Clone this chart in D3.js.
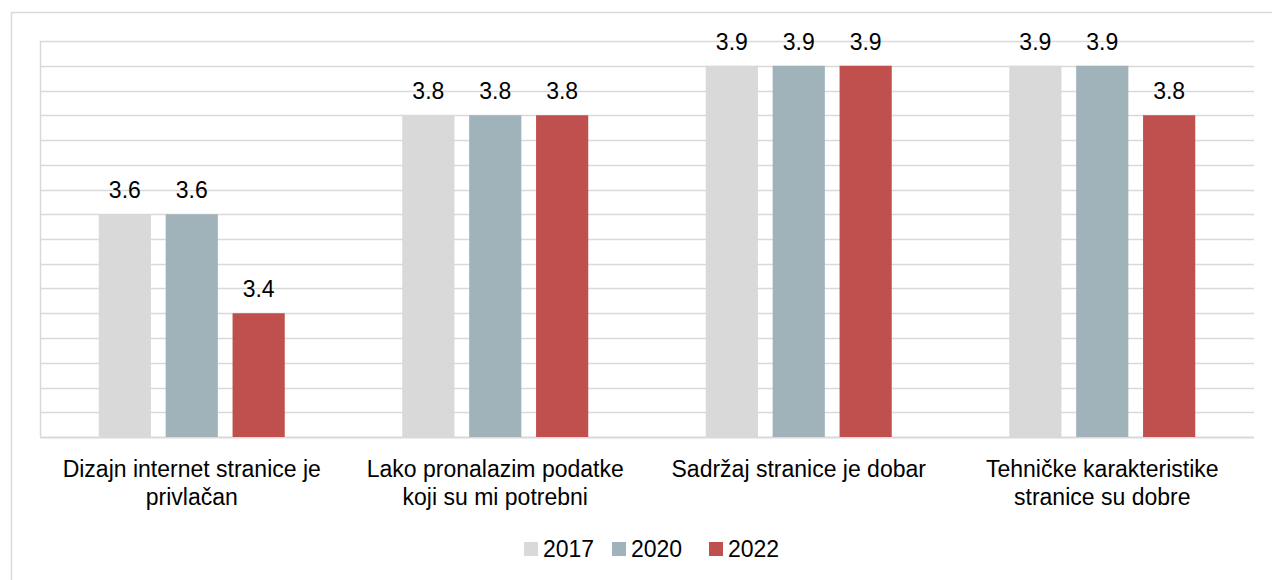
<!DOCTYPE html>
<html>
  <head>
    <meta charset="utf-8">
    <title>Ocjena internet stranice</title>
    <script src="https://cdn.jsdelivr.net/npm/d3@7"></script>
    <style>
      body { margin: 0; background: #fff; }
      svg text { font-family: "Liberation Sans", Arial, sans-serif; fill: #000; }
    </style>
  </head>
  <body>
    <svg width="1272" height="580"></svg>
    <script>
      var categories = [
        "Dizajn internet stranice je privlačan",
        "Lako pronalazim podatke koji su mi potrebni",
        "Sadržaj stranice je dobar",
        "Tehničke karakteristike stranice su dobre"
      ];
      var years = ["2017", "2020", "2022"];
      var values2017 = [3.6, 3.8, 3.9, 3.9];
      var values2020 = [3.6, 3.8, 3.9, 3.9];
      var values2022 = [3.4, 3.8, 3.9, 3.8];
      var colors = ["#d9d9d9", "#a1b3ba", "#c0504d"];

      var series = [values2017, values2020, values2022];
      var fontSize = "23px";

      var svg = d3.select("svg");
      var margin = { top: 41, right: 18, bottom: 143, left: 40 };
      var width = 1272 - margin.left - margin.right;
      var height = 580 - margin.top - margin.bottom;

      // outer chart frame (top and left edges visible)
      svg.append("path")
          .attr("d", "M11.5,580 V12.5 H1272")
          .attr("fill", "none")
          .attr("stroke", "#d9d9d9")
          .attr("stroke-width", 1.5);

      var g = svg.append("g").attr("transform", "translate(" + margin.left + "," + margin.top + ")");

      var x = d3.scaleBand().domain(categories).range([0, width]);
      var x1 = d3.scaleBand().domain(years).range([0, 186]).paddingInner(0.22);
      var y = d3.scaleLinear().domain([3.15, 3.95]).range([height, 0]);

      var ticks = d3.range(0, 17).map(function(i) { return 3.15 + i * 0.05; });

      g.append("g")
        .selectAll("line")
        .data(ticks)
        .enter().append("line")
          .attr("x1", 0)
          .attr("x2", width)
          .attr("y1", function(d) { return Math.round(y(d)) + 0.5; })
          .attr("y2", function(d) { return Math.round(y(d)) + 0.5; })
          .attr("stroke", "#d9d9d9")
          .attr("stroke-width", function(d, i) { return i === 0 ? 2 : 1.5; });

      g.append("line")
          .attr("x1", 0.5).attr("x2", 0.5)
          .attr("y1", 0).attr("y2", height)
          .attr("stroke", "#d9d9d9")
          .attr("stroke-width", 1.5);

      var groups = g.selectAll(".cat")
        .data(categories)
        .enter().append("g")
          .attr("class", "cat")
          .attr("transform", function(d) {
            return "translate(" + (x(d) + x.bandwidth() / 2 - 93) + ",0)";
          });

      groups.each(function(cat, ci) {
        var grp = d3.select(this);
        years.forEach(function(yr, si) {
          var v = series[si][ci];
          grp.append("rect")
              .attr("x", x1(yr))
              .attr("y", y(v))
              .attr("width", x1.bandwidth())
              .attr("height", height - y(v))
              .attr("fill", colors[si]);
          grp.append("text")
              .attr("x", x1(yr) + x1.bandwidth() / 2)
              .attr("y", y(v) - 16)
              .attr("text-anchor", "middle")
              .style("font-size", fontSize)
              .text(d3.format(".1f")(v));
        });
      });

      // category labels, wrapped
      var labels = g.append("g")
        .selectAll("text")
        .data(categories)
        .enter().append("text")
          .attr("x", function(d) { return x(d) + x.bandwidth() / 2; })
          .attr("y", height + 40)
          .attr("text-anchor", "middle")
          .style("font-size", fontSize);

      labels.each(function(d) {
        var text = d3.select(this);
        var words = d.split(" ");
        var line = [];
        var tspan = text.append("tspan").attr("x", text.attr("x")).attr("dy", 0);
        words.forEach(function(w) {
          line.push(w);
          tspan.text(line.join(" "));
          if (tspan.node().getComputedTextLength() > 290 && line.length > 1) {
            line.pop();
            tspan.text(line.join(" "));
            line = [w];
            tspan = text.append("tspan").attr("x", text.attr("x")).attr("dy", 28).text(w);
          }
        });
      });

      // legend
      var legend = svg.append("g").attr("transform", "translate(524,549)");
      var offsets = [0, 88, 185];
      years.forEach(function(yr, i) {
        var it = legend.append("g").attr("transform", "translate(" + offsets[i] + ",0)");
        it.append("rect")
            .attr("x", 0).attr("y", -7)
            .attr("width", 14).attr("height", 14)
            .attr("fill", colors[i]);
        it.append("text")
            .attr("x", 19).attr("y", 8)
            .style("font-size", fontSize)
            .text(yr);
      });
    </script>
  </body>
</html>
